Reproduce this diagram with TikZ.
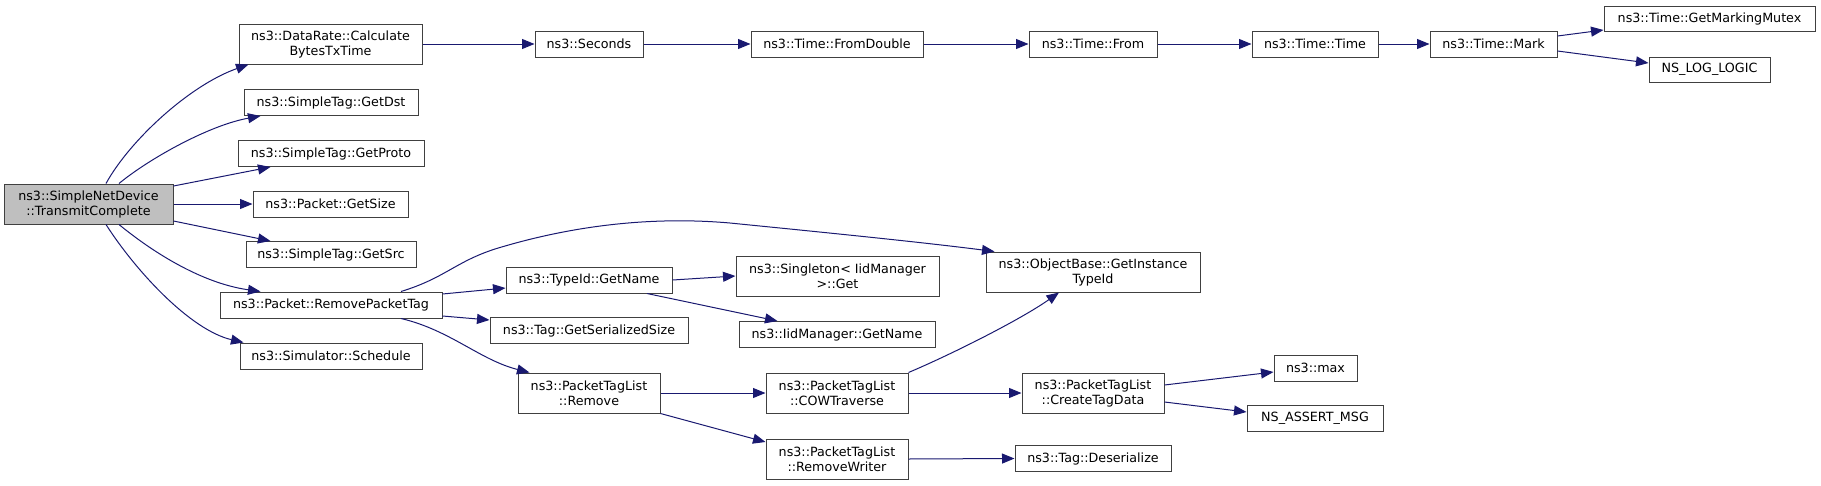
\documentclass[tikz,border=0pt]{standalone}
\usepackage{fontspec}
\setmainfont{DejaVu Sans}
\usetikzlibrary{arrows.meta}
\definecolor{edgeblue}{HTML}{191970}
\definecolor{boxline}{HTML}{404040}
\definecolor{mainfill}{HTML}{BFBFBF}
\tikzset{
  fn/.style={draw=boxline, line width=1pt, fill=white, inner sep=0pt, align=center,
    font=\fontsize{12.7}{15}\selectfont, minimum height=26pt},
  fntwo/.style={fn, minimum height=40pt},
  call/.style={draw=edgeblue, line width=1pt, -{Triangle[length=12.5pt,width=10pt]}, fill=none},
}
\begin{document}
\begin{tikzpicture}[x=1pt,y=-1pt]
\useasboundingbox (0,0) rectangle (1821,485);
% nodes
\node[fntwo, fill=mainfill, minimum width=169pt] (main) at (88.5,204) {ns3::SimpleNetDevice\\::TransmitComplete};
\node[fntwo, minimum width=183pt] (datarate) at (330.5,44) {ns3::DataRate::Calculate\\BytesTxTime};
\node[fn, minimum width=108pt] (seconds) at (589,44) {ns3::Seconds};
\node[fn, minimum width=172pt] (fromdouble) at (837,44) {ns3::Time::FromDouble};
\node[fn, minimum width=128pt] (from) at (1093,44) {ns3::Time::From};
\node[fn, minimum width=126pt] (ttime) at (1315,44) {ns3::Time::Time};
\node[fn, minimum width=127pt] (mark) at (1493.5,44) {ns3::Time::Mark};
\node[fn, minimum width=211pt, minimum height=25pt] (mutex) at (1709.5,18.5) {ns3::Time::GetMarkingMutex};
\node[fn, minimum width=121pt, minimum height=25pt] (logic) at (1709.5,69.5) {NS\_LOG\_LOGIC};
\node[fn, minimum width=174pt] (getdst) at (331,102.5) {ns3::SimpleTag::GetDst};
\node[fn, minimum width=186pt] (getproto) at (331,153.5) {ns3::SimpleTag::GetProto};
\node[fn, minimum width=155pt] (getsize) at (330.5,204) {ns3::Packet::GetSize};
\node[fn, minimum width=170pt] (getsrc) at (331,254.5) {ns3::SimpleTag::GetSrc};
\node[fn, minimum width=222pt] (rpt) at (331,305) {ns3::Packet::RemovePacketTag};
\node[fn, minimum width=182pt] (sched) at (331,356) {ns3::Simulator::Schedule};
\node[fn, minimum width=166pt] (typeid) at (589,280) {ns3::TypeId::GetName};
\node[fn, minimum width=198pt] (serial) at (589,330.5) {ns3::Tag::GetSerializedSize};
\node[fntwo, minimum width=142pt] (remove) at (589,393) {ns3::PacketTagList\\::Remove};
\node[fntwo, minimum width=203pt] (singleton) at (837.5,276) {ns3::Singleton< IidManager\\ >::Get};
\node[fn, minimum width=196pt] (iidname) at (837,334.5) {ns3::IidManager::GetName};
\node[fntwo, minimum width=142pt] (cow) at (837,393) {ns3::PacketTagList\\::COWTraverse};
\node[fntwo, minimum width=142pt] (writer) at (837,459) {ns3::PacketTagList\\::RemoveWriter};
\node[fntwo, minimum width=214pt] (objbase) at (1093,272) {ns3::ObjectBase::GetInstance\\TypeId};
\node[fntwo, minimum width=142pt] (create) at (1093,393) {ns3::PacketTagList\\::CreateTagData};
\node[fn, minimum width=156pt] (deser) at (1093,458.5) {ns3::Tag::Deserialize};
\node[fn, minimum width=83pt] (max) at (1315.5,368) {ns3::max};
\node[fn, minimum width=136pt] (assert) at (1315,418.5) {NS\_ASSERT\_MSG};
% edges from main
\draw[call] ([xshift=17.5pt]main.north) .. controls (130,140) and (190,85) .. ([xshift=10pt]datarate.south west);
\draw[call] ([xshift=30.5pt]main.north) .. controls (150,158) and (210,125) .. ([xshift=17pt]getdst.south west);
\draw[call] ([yshift=18pt]main.east) -- ([xshift=33pt]getproto.south west);
\draw[call] (main.east) -- (getsize.west);
\draw[call] ([yshift=-17pt]main.east) -- ([xshift=25pt]getsrc.north west);
\draw[call] ([xshift=30.5pt]main.south) .. controls (150,250) and (200,283) .. ([xshift=41pt]rpt.north west);
\draw[call] ([xshift=17.5pt]main.south) .. controls (135,270) and (190,330) .. ([xshift=4pt]sched.north west);
% top chain
\draw[call] (datarate.east) -- (seconds.west);
\draw[call] (seconds.east) -- (fromdouble.west);
\draw[call] (fromdouble.east) -- (from.west);
\draw[call] (from.east) -- (ttime.west);
\draw[call] (ttime.east) -- (mark.west);
\draw[call] ([yshift=8pt]mark.east) -- ([yshift=-11.5pt]mutex.west);
\draw[call] ([yshift=-7pt]mark.east) -- ([yshift=6.5pt]logic.west);
% RemovePacketTag
\draw[call] ([xshift=70pt]rpt.north) .. controls (445,278) and (455,262) .. (495,249)
  .. controls (570,226) and (650,216) .. (730,223)
  .. controls (830,233) and (920,242) .. ([xshift=9pt]objbase.north west);
\draw[call] ([yshift=11pt]rpt.east) -- ([yshift=-8pt]typeid.west);
\draw[call] ([yshift=-11pt]rpt.east) -- ([yshift=10.5pt]serial.west);
\draw[call] ([xshift=70pt]rpt.south) .. controls (450,330) and (480,360) .. ([xshift=12pt]remove.north west);
% TypeId::GetName
\draw[call] (typeid.east) -- (singleton.west);
\draw[call] ([xshift=58pt]typeid.south) -- ([xshift=39pt]iidname.north west);
% Remove
\draw[call] (remove.east) -- (cow.west);
\draw[call] (remove.south east) -- ([yshift=17pt]writer.west);
% COWTraverse
\draw[call] (cow.north east) .. controls (950,355) and (1020,320) .. ([xshift=-34pt]objbase.south);
\draw[call] (cow.east) -- (create.west);
% CreateTagData
\draw[call] ([yshift=8pt]create.east) -- ([yshift=-4pt]max.west);
\draw[call] ([yshift=-9pt]create.east) -- ([yshift=6.5pt]assert.west);
% RemoveWriter
\draw[call] (writer.east) -- (deser.west);
\end{tikzpicture}
\end{document}
